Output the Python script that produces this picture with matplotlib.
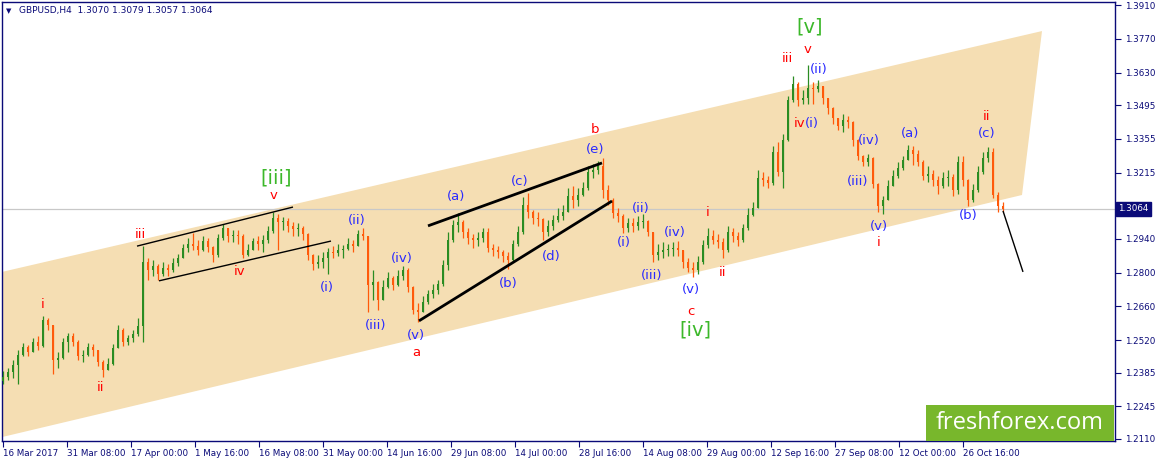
import matplotlib
matplotlib.use("Agg")
import matplotlib.pyplot as plt
import matplotlib.transforms as mtrans
from matplotlib.patches import Polygon, Rectangle
import numpy as np

# ---------------- data ----------------
symbol = "GBPUSD,H4"
last_ohlc = [1.3070, 1.3079, 1.3057, 1.3064]

date_labels = ["16 Mar 2017", "31 Mar 08:00", "17 Apr 00:00", "1 May 16:00",
               "16 May 08:00", "31 May 00:00", "14 Jun 16:00", "29 Jun 08:00",
               "14 Jul 00:00", "28 Jul 16:00", "14 Aug 08:00", "29 Aug 00:00",
               "12 Sep 16:00", "27 Sep 08:00", "12 Oct 00:00", "26 Oct 16:00"]

price_ticks = [1.3910, 1.3770, 1.3630, 1.3495, 1.3355, 1.3215, 1.2940,
               1.2800, 1.2660, 1.2520, 1.2385, 1.2245, 1.2110]

first_open = 1.2351

closes = [
    1.2367, 1.2388, 1.2417, 1.2458, 1.2492, 1.2471, 1.2513, 1.2496, 1.2604, 1.2583,
    1.2438, 1.2446, 1.2513, 1.2537, 1.2513, 1.2454, 1.2458, 1.2492, 1.2479, 1.2430,
    1.2396, 1.2421, 1.2488, 1.2562, 1.2513, 1.2529, 1.2545, 1.2579, 1.2845, 1.2811,
    1.2828, 1.2794, 1.2820, 1.2811, 1.2841, 1.2861, 1.2902, 1.2918, 1.2910, 1.2894,
    1.2931, 1.2906, 1.2873, 1.2944, 1.2985, 1.2952, 1.2956, 1.2952, 1.2873, 1.2894,
    1.2931, 1.2918, 1.2935, 1.2973, 1.3027, 1.3010, 1.3014, 1.2993, 1.2981, 1.2987,
    1.2960, 1.2873, 1.2836, 1.2845, 1.2861, 1.2886, 1.2880, 1.2894, 1.2899, 1.2918,
    1.2910, 1.2960, 1.2952, 1.2749, 1.2762, 1.2687, 1.2741, 1.2778, 1.2749, 1.2786,
    1.2811, 1.2741, 1.2645, 1.2637, 1.2679, 1.2711, 1.2728, 1.2753, 1.2832, 1.2935,
    1.2997, 1.3010, 1.2969, 1.2944, 1.2935, 1.2944, 1.2969, 1.2902, 1.2894, 1.2886,
    1.2869, 1.2853, 1.2918, 1.2969, 1.3080, 1.3052, 1.3027, 1.3022, 1.2969, 1.2993,
    1.3018, 1.3035, 1.3052, 1.3118, 1.3101, 1.3122, 1.3151, 1.3218, 1.3226, 1.3242,
    1.3143, 1.3101, 1.3048, 1.3035, 1.2985, 1.3006, 1.2993, 1.3010, 1.3014, 1.2969,
    1.2873, 1.2886, 1.2894, 1.2898, 1.2902, 1.2894, 1.2845, 1.2820, 1.2811, 1.2845,
    1.2914, 1.2952, 1.2935, 1.2927, 1.2894, 1.2969, 1.2952, 1.2935, 1.2985, 1.3039,
    1.3068, 1.3193, 1.3184, 1.3172, 1.3301, 1.3218, 1.3350, 1.3516, 1.3582, 1.3516,
    1.3525, 1.3566, 1.3560, 1.3574, 1.3525, 1.3483, 1.3442, 1.3408, 1.3433, 1.3425,
    1.3350, 1.3284, 1.3259, 1.3276, 1.3167, 1.3076, 1.3101, 1.3159, 1.3201, 1.3234,
    1.3267, 1.3309, 1.3292, 1.3259, 1.3201, 1.3209, 1.3184, 1.3159, 1.3193, 1.3197,
    1.3143, 1.3259, 1.3184, 1.3101, 1.3143, 1.3218, 1.3276, 1.3301, 1.3122, 1.3076,
    1.3064,
]

highs = [
    1.2392, 1.2405, 1.2438, 1.2479, 1.2509, 1.2500, 1.2529, 1.2537, 1.2620, 1.2612,
    1.2583, 1.2471, 1.2529, 1.2550, 1.2550, 1.2520, 1.2479, 1.2509, 1.2504, 1.2479,
    1.2438, 1.2446, 1.2504, 1.2583, 1.2571, 1.2541, 1.2562, 1.2612, 1.2910, 1.2861,
    1.2853, 1.2836, 1.2845, 1.2836, 1.2861, 1.2877, 1.2918, 1.2944, 1.2965, 1.2935,
    1.2952, 1.2944, 1.2910, 1.2960, 1.3001, 1.2985, 1.2977, 1.2977, 1.2960, 1.2918,
    1.2944, 1.2952, 1.2956, 1.2993, 1.3052, 1.3043, 1.3031, 1.3027, 1.3010, 1.3006,
    1.2993, 1.2966, 1.2878, 1.2873, 1.2886, 1.2902, 1.2910, 1.2918, 1.2914, 1.2944,
    1.2935, 1.2977, 1.2985, 1.2952, 1.2811, 1.2766, 1.2770, 1.2803, 1.2786, 1.2811,
    1.2828, 1.2820, 1.2745, 1.2675, 1.2703, 1.2728, 1.2753, 1.2770, 1.2853, 1.2969,
    1.3018, 1.3048, 1.3018, 1.2985, 1.2960, 1.2969, 1.2985, 1.2985, 1.2918, 1.2910,
    1.2894, 1.2886, 1.2935, 1.2993, 1.3114, 1.3131, 1.3060, 1.3052, 1.3027, 1.3018,
    1.3039, 1.3068, 1.3080, 1.3151, 1.3159, 1.3151, 1.3176, 1.3242, 1.3250, 1.3263,
    1.3276, 1.3163, 1.3110, 1.3068, 1.3043, 1.3027, 1.3027, 1.3035, 1.3043, 1.3018,
    1.2969, 1.2918, 1.2927, 1.2918, 1.2927, 1.2931, 1.2894, 1.2861, 1.2845, 1.2869,
    1.2935, 1.2985, 1.2977, 1.2960, 1.2944, 1.2993, 1.2985, 1.2969, 1.3001, 1.3068,
    1.3093, 1.3226, 1.3218, 1.3201, 1.3325, 1.3342, 1.3375, 1.3533, 1.3616, 1.3591,
    1.3558, 1.3661, 1.3591, 1.3599, 1.3574, 1.3525, 1.3488, 1.3442, 1.3458, 1.3450,
    1.3430, 1.3355, 1.3288, 1.3292, 1.3280, 1.3170, 1.3118, 1.3184, 1.3226, 1.3259,
    1.3284, 1.3329, 1.3325, 1.3309, 1.3267, 1.3242, 1.3226, 1.3201, 1.3218, 1.3226,
    1.3209, 1.3284, 1.3284, 1.3188, 1.3167, 1.3242, 1.3301, 1.3321, 1.3317, 1.3134,
    1.3093,
]

lows = [
    1.2338, 1.2355, 1.2363, 1.2338, 1.2454, 1.2454, 1.2471, 1.2479, 1.2490, 1.2562,
    1.2379, 1.2405, 1.2440, 1.2471, 1.2496, 1.2438, 1.2430, 1.2454, 1.2454, 1.2413,
    1.2367, 1.2396, 1.2415, 1.2488, 1.2496, 1.2500, 1.2513, 1.2537, 1.2513, 1.2770,
    1.2786, 1.2770, 1.2786, 1.2786, 1.2803, 1.2828, 1.2861, 1.2886, 1.2894, 1.2873,
    1.2888, 1.2886, 1.2845, 1.2866, 1.2935, 1.2927, 1.2927, 1.2918, 1.2861, 1.2869,
    1.2894, 1.2894, 1.2886, 1.2923, 1.2965, 1.2894, 1.2977, 1.2969, 1.2952, 1.2952,
    1.2935, 1.2853, 1.2811, 1.2820, 1.2820, 1.2794, 1.2861, 1.2869, 1.2861, 1.2894,
    1.2886, 1.2910, 1.2935, 1.2637, 1.2687, 1.2645, 1.2687, 1.2737, 1.2728, 1.2745,
    1.2770, 1.2720, 1.2628, 1.2596, 1.2637, 1.2670, 1.2695, 1.2711, 1.2745, 1.2811,
    1.2927, 1.2969, 1.2944, 1.2918, 1.2902, 1.2910, 1.2927, 1.2886, 1.2869, 1.2861,
    1.2845, 1.2815, 1.2845, 1.2910, 1.2960, 1.3027, 1.3001, 1.2993, 1.2935, 1.2952,
    1.2977, 1.3010, 1.3018, 1.3052, 1.3068, 1.3076, 1.3118, 1.3143, 1.3193, 1.3209,
    1.3110, 1.3080, 1.3027, 1.3010, 1.2965, 1.2969, 1.2969, 1.2977, 1.2985, 1.2952,
    1.2845, 1.2853, 1.2861, 1.2869, 1.2869, 1.2869, 1.2820, 1.2803, 1.2782, 1.2794,
    1.2836, 1.2902, 1.2918, 1.2902, 1.2861, 1.2886, 1.2927, 1.2910, 1.2927, 1.2977,
    1.3035, 1.3068, 1.3159, 1.3151, 1.3163, 1.3201, 1.3151, 1.3345, 1.3508, 1.3491,
    1.3499, 1.3499, 1.3499, 1.3550, 1.3499, 1.3458, 1.3416, 1.3392, 1.3384, 1.3400,
    1.3325, 1.3267, 1.3242, 1.3242, 1.3151, 1.3052, 1.3043, 1.3101, 1.3159, 1.3193,
    1.3226, 1.3267, 1.3246, 1.3242, 1.3184, 1.3176, 1.3159, 1.3126, 1.3151, 1.3159,
    1.3118, 1.3126, 1.3159, 1.3076, 1.3093, 1.3134, 1.3209, 1.3259, 1.3110, 1.3052,
    1.3052,
]

# price channel corners (bar index, price)
channel_x = [-0.2, 207.8, 203.8, -0.2]
channel_y = [1.2803, 1.3802, 1.3122, 1.2118]

# trend lines: (x0, y0, x1, y1, linewidth)
trend_lines = [
    (26.8, 1.2910, 58.0, 1.3072, 1.0),
    (31.2, 1.2766, 65.6, 1.2931, 1.0),
    (85.0, 1.2994, 119.8, 1.3255, 2.0),
    (83.2, 1.2600, 121.8, 1.3097, 2.0),
    (200.0, 1.3056, 204.0, 1.2803, 1.0),
]

# wave labels: (bar index, price, text, kind)
wave_labels = [
    (8.0, 1.2666, "i", "r"), (19.4, 1.2322, "ii", "r"), (27.4, 1.2960, "iii", "r"),
    (47.4, 1.2803, "iv", "r"), (54.2, 1.3122, "v", "r"), (54.6, 1.3193, "[iii]", "g"),
    (64.8, 1.2737, "(i)", "b"), (70.8, 1.3018, "(ii)", "b"), (74.6, 1.2579, "(iii)", "b"),
    (79.8, 1.2857, "(iv)", "b"), (82.6, 1.2541, "(v)", "b"), (82.6, 1.2467, "a", "r"),
    (90.6, 1.3114, "(a)", "b"), (101.0, 1.2753, "(b)", "b"), (103.4, 1.3180, "(c)", "b"),
    (109.6, 1.2869, "(d)", "b"), (118.4, 1.3309, "(e)", "b"), (118.4, 1.3392, "b", "r"),
    (124.2, 1.2923, "(i)", "b"), (127.6, 1.3068, "(ii)", "b"), (129.8, 1.2790, "(iii)", "b"),
    (134.4, 1.2965, "(iv)", "b"), (137.6, 1.2732, "(v)", "b"), (137.6, 1.2637, "c", "r"),
    (138.4, 1.2562, "[iv]", "g"), (141.0, 1.3048, "i", "r"), (143.8, 1.2799, "ii", "r"),
    (156.8, 1.3690, "iii", "r"), (161.0, 1.3724, "v", "r"), (161.4, 1.3819, "[v]", "g"),
    (163.2, 1.3641, "(ii)", "b"), (159.4, 1.3417, "iv", "r"), (161.8, 1.3417, "(i)", "b"),
    (171.0, 1.3180, "(iii)", "b"), (173.2, 1.3346, "(iv)", "b"), (175.2, 1.2993, "(v)", "b"),
    (175.2, 1.2923, "i", "r"), (181.4, 1.3379, "(a)", "b"), (193.0, 1.3039, "(b)", "b"),
    (196.8, 1.3379, "(c)", "b"), (196.6, 1.3446, "ii", "r"),
]

# ---------------- style ----------------
NAVY = "#0a0a78"
UP = "#2a8c22"
DOWN = "#ff5a0a"
BAND = "#f5deb3"
LABEL_COLORS = {"r": "#ff0000", "b": "#2a2aff", "g": "#3cb82a"}
BARS_PER_LABEL = 12.8

W, H = 1155, 462
fig = plt.figure(figsize=(W / 100, H / 100), dpi=100)
ax = fig.add_axes([2 / W, 21 / H, 1113 / W, 439 / H])
ax.set_xlim(-0.2, 222.4)
ax.set_ylim(1.21017, 1.39225)

# channel
ax.add_patch(Polygon(list(zip(channel_x, channel_y)), closed=True,
                     facecolor=BAND, edgecolor="none", zorder=1))
ax.axhline(last_ohlc[3], color="#c8c8c8", lw=0.9, zorder=2)

# candles
c = np.array(closes)
o = np.r_[first_open, c[:-1]]
hi = np.array(highs)
lo = np.array(lows)
x = np.arange(len(c))
cols = np.where(c > o, UP, np.where(c < o, DOWN, "#000000"))
ax.vlines(x, np.minimum(lo, np.minimum(o, c)), np.maximum(hi, np.maximum(o, c)),
          colors=cols, lw=0.9, zorder=3)
body_h = np.maximum(np.abs(c - o), 0.0003)
ax.bar(x, body_h, bottom=np.minimum(o, c), width=0.55, color=cols, lw=0, zorder=4)

# trend lines
for x0, y0, x1, y1, lw in trend_lines:
    ax.plot([x0, x1], [y0, y1], color="black", lw=lw, zorder=5,
            solid_capstyle="butt")

# wave labels
for xi, yi, txt, kind in wave_labels:
    big = kind == "g"
    ax.text(xi, yi, txt, color=LABEL_COLORS[kind], ha="center", va="center",
            fontsize=14 if big else 9.5, family="DejaVu Sans", zorder=6)

# axes styling
for s in ax.spines.values():
    s.set_color(NAVY)
    s.set_linewidth(1.0)
ax.yaxis.tick_right()
ax.set_yticks(price_ticks)
ax.set_yticklabels([f"{v:.4f}" for v in price_ticks])
ax.set_xticks([j * BARS_PER_LABEL for j in range(len(date_labels))])
ax.set_xticklabels(date_labels, ha="left")
ax.tick_params(axis="both", colors=NAVY, labelsize=6.3, length=4, width=0.8,
               direction="out", pad=2)
ax.tick_params(axis="y", pad=3)
for lbl in ax.get_xticklabels() + ax.get_yticklabels():
    lbl.set_color(NAVY)

# current price tag
blend = mtrans.blended_transform_factory(ax.transAxes, ax.transData)
ax.text(1.003, last_ohlc[3], f"{last_ohlc[3]:.4f}", transform=blend, ha="left",
        va="center", fontsize=6.3, color="white", zorder=10, clip_on=False,
        bbox=dict(boxstyle="square,pad=0.3", facecolor=NAVY, edgecolor=NAVY))

# title
fig.text(6 / W, 1 - 11 / H, "\u25bc", fontsize=5, color=NAVY, va="center")
fig.text(19 / W, 1 - 11 / H,
         f"{symbol}  " + " ".join(f"{v:.4f}" for v in last_ohlc),
         fontsize=6.5, color=NAVY, va="center")

# logo
fig.patches.append(Rectangle((926 / W, 21 / H), 188 / W, 36 / H,
                             transform=fig.transFigure, facecolor="#78b72c",
                             edgecolor="none", zorder=20))
fig.text(1020 / W, 1 - 423 / H, "freshforex.com", color="white", fontsize=17,
         family="Open Sans", ha="center", va="center", zorder=21)

fig.savefig("out.png", dpi=100)
